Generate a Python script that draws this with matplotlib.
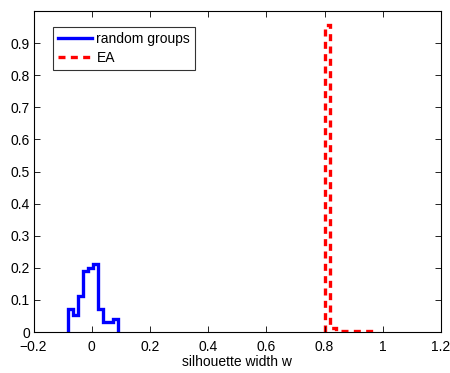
import matplotlib
matplotlib.use("Agg")
import matplotlib.pyplot as plt
from matplotlib.lines import Line2D

# Data (normalized histograms drawn as stairs)
blue_edges = [-0.080, -0.063, -0.046, -0.029, -0.012, 0.005, 0.022, 0.039, 0.056, 0.073, 0.090]
blue_values = [0.071, 0.053, 0.112, 0.190, 0.200, 0.211, 0.071, 0.032, 0.032, 0.040]
red_edges = [0.80, 0.82, 0.84, 0.86, 0.88, 0.90, 0.92, 0.94, 0.96, 0.98]
red_values = [0.955, 0.012, 0.004, 0.004, 0.004, 0.004, 0.004, 0.004, 0.004]
xticks = [-0.2, 0, 0.2, 0.4, 0.6, 0.8, 1, 1.2]
xticklabels = ["\u22120.2", "0", "0.2", "0.4", "0.6", "0.8", "1", "1.2"]
yticks = [0, 0.1, 0.2, 0.3, 0.4, 0.5, 0.6, 0.7, 0.8, 0.9]
yticklabels = ["0", "0.1", "0.2", "0.3", "0.4", "0.5", "0.6", "0.7", "0.8", "0.9"]
series_labels = ["random groups", "EA"]

plt.rcParams['font.family'] = ['Liberation Sans', 'DejaVu Sans']

fig = plt.figure(figsize=(4.5, 3.73), dpi=100)
ax = fig.add_axes([33.5/450, 41/373, (441-33.5)/450, (332-11)/373])

dash = (0, (2.1, 1.6))
ax.stairs(blue_values, blue_edges, color='#0000ff', linewidth=2.4, baseline=0)
ax.stairs(red_values, red_edges, color='#ff0000', linewidth=2.4, linestyle=dash, baseline=0)

ax.set_xlim(-0.2, 1.2)
ax.set_ylim(0, 1)
ax.set_xticks(xticks)
ax.set_xticklabels(xticklabels)
ax.set_yticks(yticks)
ax.set_yticklabels(yticklabels)
ax.tick_params(direction='in', top=True, right=True, length=4, width=0.6, labelsize=10)
ax.tick_params(axis='x', pad=5.5)
ax.tick_params(axis='y', pad=2.5)
for s in ax.spines.values():
    s.set_linewidth(0.8)
ax.set_xlabel('silhouette width w', fontsize=10, labelpad=1)

handles = [Line2D([], [], color='#0000ff', linewidth=2.4),
           Line2D([], [], color='#ff0000', linewidth=2.4, linestyle=dash)]
leg = ax.legend(handles, series_labels, loc='upper left',
                bbox_to_anchor=((52.7-33.5)/407.5, (332-26.7)/321),
                fontsize=10, frameon=True, fancybox=False, edgecolor='black',
                handlelength=2.5, handletextpad=0.3, borderpad=0.35, labelspacing=0.4,
                borderaxespad=0)
leg.get_frame().set_linewidth(0.8)

fig.savefig('out.png', dpi=100)
